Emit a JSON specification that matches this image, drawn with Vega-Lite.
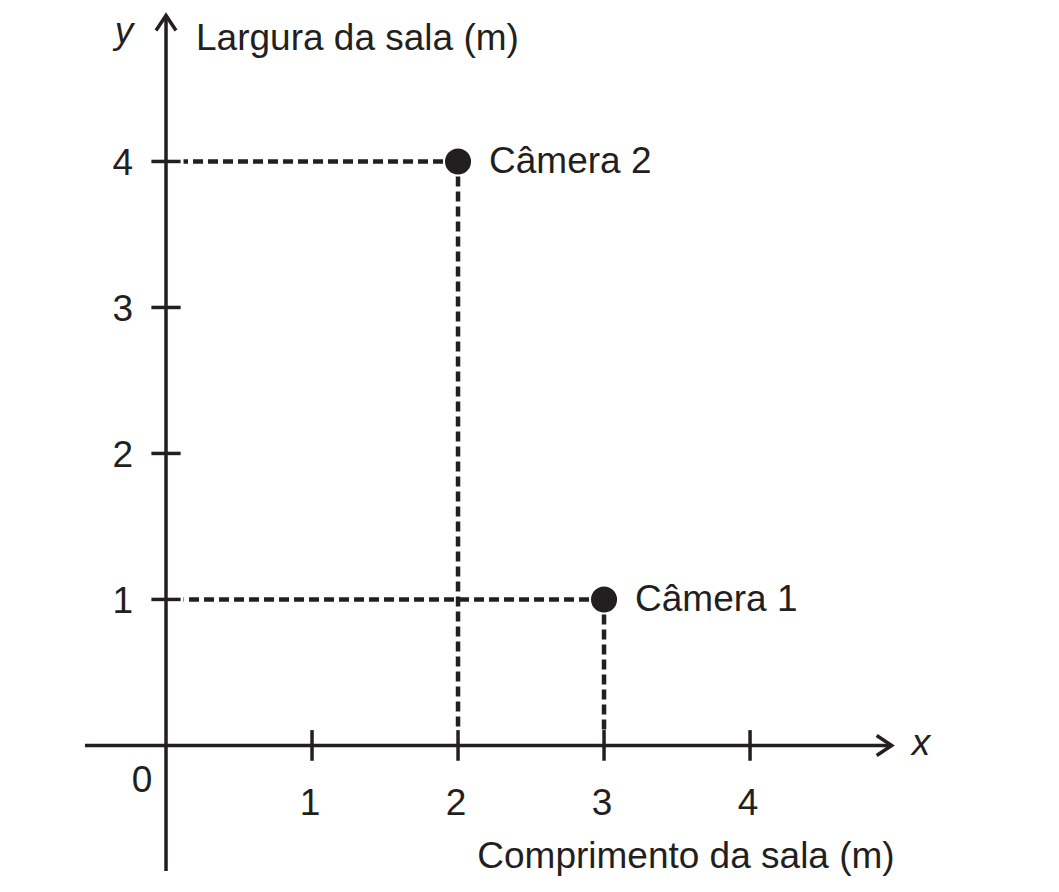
{
  "$schema": "https://vega.github.io/schema/vega-lite/v6.json",
  "width": 1059,
  "height": 892,
  "padding": 0,
  "autosize": {"type": "none"},
  "background": "white",
  "config": {
    "view": {"stroke": null},
    "text": {"font": "Liberation Sans", "fontSize": 37, "color": "#231f20"}
  },
  "datasets": {
    "cameras": [
      {"x": 3, "y": 1, "label": "Câmera 1"},
      {"x": 2, "y": 4, "label": "Câmera 2"}
    ],
    "ticks": [{"v": 1}, {"v": 2}, {"v": 3}, {"v": 4}],
    "axes": [
      {"axis": "x", "x1": -0.555, "x2": 4.97, "y1": 0, "y2": 0},
      {"axis": "y", "x1": 0, "x2": 0, "y1": -0.86, "y2": 5.0}
    ]
  },
  "layer": [
    {
      "data": {"name": "axes"},
      "mark": {"type": "rule", "strokeWidth": 3.5, "color": "#231f20"},
      "encoding": {
        "x": {"field": "x1", "type": "quantitative", "scale": {"domain": [-1.137, 6.116], "nice": false, "zero": false}, "axis": null},
        "x2": {"field": "x2"},
        "y": {"field": "y1", "type": "quantitative", "scale": {"domain": [-1.004, 5.106], "nice": false, "zero": false}, "axis": null},
        "y2": {"field": "y2"}
      }
    },
    {
      "data": {"name": "axes"},
      "transform": [{"filter": "datum.axis === 'x'"}],
      "mark": {"type": "point", "shape": "M-1.5,-1L0,0L-1.5,1", "filled": false, "size": 400, "strokeWidth": 3.5, "opacity": 1, "color": "#231f20"},
      "encoding": {
        "x": {"field": "x2", "type": "quantitative", "scale": {"domain": [-1.137, 6.116], "nice": false, "zero": false}, "axis": null},
        "y": {"field": "y1", "type": "quantitative", "scale": {"domain": [-1.004, 5.106], "nice": false, "zero": false}, "axis": null}
      }
    },
    {
      "data": {"name": "axes"},
      "transform": [{"filter": "datum.axis === 'y'"}],
      "mark": {"type": "point", "shape": "M-1,1.5L0,0L1,1.5", "filled": false, "size": 400, "strokeWidth": 3.5, "opacity": 1, "color": "#231f20"},
      "encoding": {
        "x": {"field": "x1", "type": "quantitative", "scale": {"domain": [-1.137, 6.116], "nice": false, "zero": false}, "axis": null},
        "y": {"field": "y2", "type": "quantitative", "scale": {"domain": [-1.004, 5.106], "nice": false, "zero": false}, "axis": null}
      }
    },
    {
      "data": {"name": "ticks"},
      "mark": {"type": "rule", "strokeWidth": 3.5, "color": "#231f20"},
      "encoding": {
        "x": {"field": "v", "type": "quantitative", "scale": {"domain": [-1.137, 6.116], "nice": false, "zero": false}, "axis": null},
        "y": {"datum": -0.105, "type": "quantitative", "scale": {"domain": [-1.004, 5.106], "nice": false, "zero": false}, "axis": null},
        "y2": {"datum": 0.105}
      }
    },
    {
      "data": {"name": "ticks"},
      "mark": {"type": "rule", "strokeWidth": 3.5, "color": "#231f20"},
      "encoding": {
        "x": {"datum": -0.1, "type": "quantitative", "scale": {"domain": [-1.137, 6.116], "nice": false, "zero": false}, "axis": null},
        "x2": {"datum": 0.1},
        "y": {"field": "v", "type": "quantitative", "scale": {"domain": [-1.004, 5.106], "nice": false, "zero": false}, "axis": null}
      }
    },
    {
      "data": {"name": "cameras"},
      "mark": {"type": "rule", "strokeWidth": 4.5, "strokeDash": [10, 5], "color": "#231f20"},
      "encoding": {
        "x": {"field": "x", "type": "quantitative", "scale": {"domain": [-1.137, 6.116], "nice": false, "zero": false}, "axis": null},
        "x2": {"datum": 0.12},
        "y": {"field": "y", "type": "quantitative", "scale": {"domain": [-1.004, 5.106], "nice": false, "zero": false}, "axis": null}
      }
    },
    {
      "data": {"name": "cameras"},
      "mark": {"type": "rule", "strokeWidth": 4.5, "strokeDash": [10, 5], "color": "#231f20"},
      "encoding": {
        "x": {"field": "x", "type": "quantitative", "scale": {"domain": [-1.137, 6.116], "nice": false, "zero": false}, "axis": null},
        "y": {"field": "y", "type": "quantitative", "scale": {"domain": [-1.004, 5.106], "nice": false, "zero": false}, "axis": null},
        "y2": {"datum": 0.1}
      }
    },
    {
      "data": {"name": "cameras"},
      "mark": {"type": "point", "shape": "circle", "filled": true, "size": 680, "opacity": 1, "color": "#231f20"},
      "encoding": {
        "x": {"field": "x", "type": "quantitative", "scale": {"domain": [-1.137, 6.116], "nice": false, "zero": false}, "axis": null},
        "y": {"field": "y", "type": "quantitative", "scale": {"domain": [-1.004, 5.106], "nice": false, "zero": false}, "axis": null}
      }
    },
    {
      "data": {"name": "cameras"},
      "mark": {"type": "text", "align": "left", "baseline": "alphabetic", "dx": 31, "dy": 12},
      "encoding": {
        "x": {"field": "x", "type": "quantitative", "scale": {"domain": [-1.137, 6.116], "nice": false, "zero": false}, "axis": null},
        "y": {"field": "y", "type": "quantitative", "scale": {"domain": [-1.004, 5.106], "nice": false, "zero": false}, "axis": null},
        "text": {"field": "label"}
      }
    },
    {
      "data": {"name": "ticks"},
      "mark": {"type": "text", "align": "center", "baseline": "alphabetic", "dx": -2, "dy": 70},
      "encoding": {
        "x": {"field": "v", "type": "quantitative", "scale": {"domain": [-1.137, 6.116], "nice": false, "zero": false}, "axis": null},
        "y": {"datum": 0, "type": "quantitative", "scale": {"domain": [-1.004, 5.106], "nice": false, "zero": false}, "axis": null},
        "text": {"field": "v"}
      }
    },
    {
      "data": {"name": "ticks"},
      "mark": {"type": "text", "align": "right", "baseline": "alphabetic", "dx": -33, "dy": 14},
      "encoding": {
        "x": {"datum": 0, "type": "quantitative", "scale": {"domain": [-1.137, 6.116], "nice": false, "zero": false}, "axis": null},
        "y": {"field": "v", "type": "quantitative", "scale": {"domain": [-1.004, 5.106], "nice": false, "zero": false}, "axis": null},
        "text": {"field": "v"}
      }
    },
    {
      "data": {"values": [{"t": "0"}]},
      "mark": {"type": "text", "align": "center", "baseline": "alphabetic", "dx": -24, "dy": 47},
      "encoding": {
        "x": {"datum": 0, "type": "quantitative", "scale": {"domain": [-1.137, 6.116], "nice": false, "zero": false}, "axis": null},
        "y": {"datum": 0, "type": "quantitative", "scale": {"domain": [-1.004, 5.106], "nice": false, "zero": false}, "axis": null},
        "text": {"field": "t"}
      }
    },
    {
      "data": {"values": [{"t": "y"}]},
      "mark": {"type": "text", "align": "center", "baseline": "alphabetic", "fontStyle": "italic", "dx": -42, "dy": 28},
      "encoding": {
        "x": {"datum": 0, "type": "quantitative", "scale": {"domain": [-1.137, 6.116], "nice": false, "zero": false}, "axis": null},
        "y": {"datum": 5, "type": "quantitative", "scale": {"domain": [-1.004, 5.106], "nice": false, "zero": false}, "axis": null},
        "text": {"field": "t"}
      }
    },
    {
      "data": {"values": [{"t": "Largura da sala (m)"}]},
      "mark": {"type": "text", "align": "left", "baseline": "alphabetic", "dx": 30, "dy": 35},
      "encoding": {
        "x": {"datum": 0, "type": "quantitative", "scale": {"domain": [-1.137, 6.116], "nice": false, "zero": false}, "axis": null},
        "y": {"datum": 5, "type": "quantitative", "scale": {"domain": [-1.004, 5.106], "nice": false, "zero": false}, "axis": null},
        "text": {"field": "t"}
      }
    },
    {
      "data": {"values": [{"t": "x"}]},
      "mark": {"type": "text", "align": "left", "baseline": "alphabetic", "fontStyle": "italic", "dx": 20, "dy": 10},
      "encoding": {
        "x": {"datum": 4.97, "type": "quantitative", "scale": {"domain": [-1.137, 6.116], "nice": false, "zero": false}, "axis": null},
        "y": {"datum": 0, "type": "quantitative", "scale": {"domain": [-1.004, 5.106], "nice": false, "zero": false}, "axis": null},
        "text": {"field": "t"}
      }
    },
    {
      "data": {"values": [{"t": "Comprimento da sala (m)"}]},
      "mark": {"type": "text", "align": "right", "baseline": "alphabetic", "dx": 3, "dy": 123},
      "encoding": {
        "x": {"datum": 4.97, "type": "quantitative", "scale": {"domain": [-1.137, 6.116], "nice": false, "zero": false}, "axis": null},
        "y": {"datum": 0, "type": "quantitative", "scale": {"domain": [-1.004, 5.106], "nice": false, "zero": false}, "axis": null},
        "text": {"field": "t"}
      }
    }
  ]
}
